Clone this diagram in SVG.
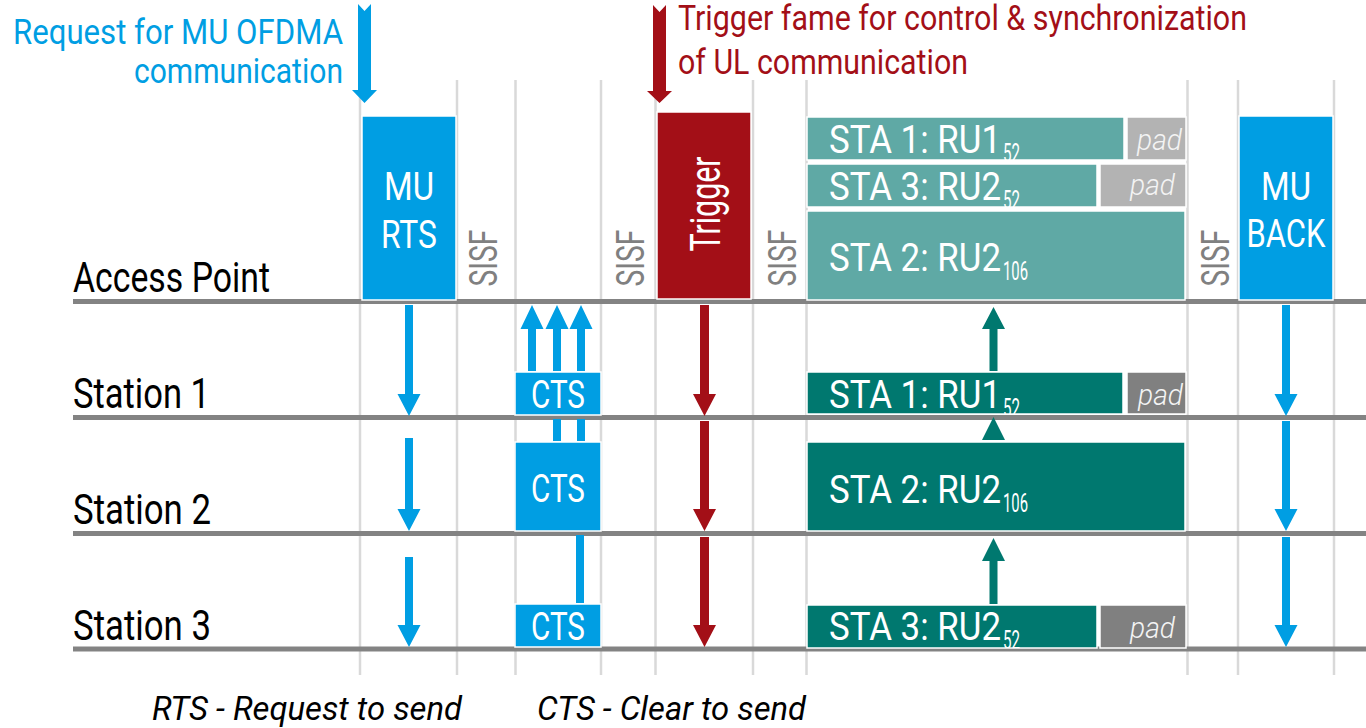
<svg xmlns="http://www.w3.org/2000/svg" width="1366" height="728" viewBox="0 0 1366 728">
  <style>
    text { font-family: Roboto, "Liberation Sans", sans-serif; }
    .grid { stroke: #d9d9d9; stroke-width: 2.5; }
    .lane { stroke: #838383; stroke-width: 5; }
    .blue { fill: #009ee3; }
    .red { fill: #a30f17; }
    .teal1 { fill: #5fa9a5; }
    .teal2 { fill: #00786f; }
    .pad1 { fill: #b3b3b3; }
    .pad2 { fill: #808080; }
    .box { stroke: #ffffff; stroke-width: 1.5; }
    .in { fill: #ffffff; font-size: 39px; }
    .mid { text-anchor: middle; }
    .sub { font-size: 25px; }
    .padt { fill: #f4f4f4; font-size: 30px; font-style: italic; font-weight: 300; text-anchor: end; }
    .lbl { fill: #000000; font-size: 42px; }
    .sisf { fill: #808080; font-size: 39px; text-anchor: middle; }
    .note { fill: #000000; font-size: 33px; font-style: italic; }
  </style>
  <defs>
    <clipPath id="c-ap1"><rect x="807" y="117" width="317" height="43"/></clipPath>
    <clipPath id="c-ap2"><rect x="807" y="164" width="290" height="43"/></clipPath>
    <clipPath id="c-s1"><rect x="807" y="372" width="316" height="42"/></clipPath>
    <clipPath id="c-s3"><rect x="807" y="605" width="290" height="43"/></clipPath>
  </defs>

  <rect width="1366" height="728" fill="#ffffff"/>

  <!-- time grid -->
  <g id="grid">
    <line class="grid" x1="360" y1="80" x2="360" y2="675"/>
    <line class="grid" x1="457" y1="80" x2="457" y2="675"/>
    <line class="grid" x1="515.5" y1="80" x2="515.5" y2="675"/>
    <line class="grid" x1="601" y1="80" x2="601" y2="675"/>
    <line class="grid" x1="655.5" y1="80" x2="655.5" y2="675"/>
    <line class="grid" x1="753" y1="80" x2="753" y2="675"/>
    <line class="grid" x1="806.5" y1="80" x2="806.5" y2="675"/>
    <line class="grid" x1="1187.5" y1="80" x2="1187.5" y2="675"/>
    <line class="grid" x1="1238" y1="80" x2="1238" y2="675"/>
    <line class="grid" x1="1334" y1="80" x2="1334" y2="675"/>
  </g>

  <!-- lanes -->
  <g id="lanes">
    <line class="lane" x1="73" y1="301.5" x2="1366" y2="301.5"/>
    <line class="lane" x1="73" y1="417.5" x2="1366" y2="417.5"/>
    <line class="lane" x1="73" y1="533.5" x2="1366" y2="533.5"/>
    <line class="lane" x1="73" y1="649" x2="1366" y2="649"/>
    <text class="lbl" x="73" y="292" textLength="197" lengthAdjust="spacingAndGlyphs">Access Point</text>
    <text class="lbl" x="73" y="408" textLength="137" lengthAdjust="spacingAndGlyphs">Station 1</text>
    <text class="lbl" x="73" y="524" textLength="138" lengthAdjust="spacingAndGlyphs">Station 2</text>
    <text class="lbl" x="73" y="640" textLength="138" lengthAdjust="spacingAndGlyphs">Station 3</text>
  </g>

  <!-- interframe spaces -->
  <g id="sisf">
    <text class="sisf" transform="translate(497,258) rotate(-90)" textLength="57" lengthAdjust="spacingAndGlyphs">SISF</text>
    <text class="sisf" transform="translate(644,258) rotate(-90)" textLength="57" lengthAdjust="spacingAndGlyphs">SISF</text>
    <text class="sisf" transform="translate(796,258) rotate(-90)" textLength="57" lengthAdjust="spacingAndGlyphs">SISF</text>
    <text class="sisf" transform="translate(1229,258) rotate(-90)" textLength="57" lengthAdjust="spacingAndGlyphs">SISF</text>
  </g>

  <!-- access point frames -->
  <g id="mu-rts">
    <rect class="blue box" x="362" y="116" width="94" height="184"/>
    <text class="in mid" x="409" y="200" textLength="50" lengthAdjust="spacingAndGlyphs">MU</text>
    <text class="in mid" x="409" y="248" textLength="56" lengthAdjust="spacingAndGlyphs">RTS</text>
  </g>
  <g id="trigger">
    <rect class="red box" x="657" y="112" width="94" height="187"/>
    <text class="in mid" style="font-size:42px" transform="translate(720,204) rotate(-90)" textLength="95" lengthAdjust="spacingAndGlyphs">Trigger</text>
  </g>
  <g id="ap-ru1-52">
    <rect class="teal1 box" x="807" y="117" width="317" height="43"/>
    <rect class="pad1 box" x="1127" y="117" width="59" height="43"/>
    <text class="in" x="829" y="153" clip-path="url(#c-ap1)"><tspan textLength="172" lengthAdjust="spacingAndGlyphs">STA 1: RU1</tspan><tspan class="sub" dx="2" dy="9" textLength="17" lengthAdjust="spacingAndGlyphs">52</tspan></text>
    <text class="padt" x="1182" y="150" textLength="45" lengthAdjust="spacingAndGlyphs">pad</text>
  </g>
  <g id="ap-ru2-52">
    <rect class="teal1 box" x="807" y="164" width="290" height="43"/>
    <rect class="pad1 box" x="1100" y="164" width="86" height="43"/>
    <text class="in" x="829" y="200" clip-path="url(#c-ap2)"><tspan textLength="172" lengthAdjust="spacingAndGlyphs">STA 3: RU2</tspan><tspan class="sub" dx="2" dy="9" textLength="17" lengthAdjust="spacingAndGlyphs">52</tspan></text>
    <text class="padt" x="1175" y="195" textLength="45" lengthAdjust="spacingAndGlyphs">pad</text>
  </g>
  <g id="ap-ru2-106">
    <rect class="teal1 box" x="807" y="211" width="378" height="89"/>
    <text class="in" x="829" y="271"><tspan textLength="172" lengthAdjust="spacingAndGlyphs">STA 2: RU2</tspan><tspan class="sub" dx="2" dy="9" textLength="25" lengthAdjust="spacingAndGlyphs">106</tspan></text>
  </g>
  <g id="mu-back">
    <rect class="blue box" x="1239" y="116" width="94" height="184"/>
    <text class="in mid" x="1286" y="200" textLength="50" lengthAdjust="spacingAndGlyphs">MU</text>
    <text class="in mid" x="1286" y="247" textLength="79" lengthAdjust="spacingAndGlyphs">BACK</text>
  </g>

  <!-- station frames -->
  <g id="cts-1">
    <rect class="blue box" x="515" y="372" width="86" height="43"/>
    <text class="in mid" x="558" y="408" textLength="54" lengthAdjust="spacingAndGlyphs">CTS</text>
  </g>
  <g id="cts-2">
    <rect class="blue box" x="515" y="442" width="86" height="89"/>
    <text class="in mid" x="558" y="502" textLength="54" lengthAdjust="spacingAndGlyphs">CTS</text>
  </g>
  <g id="cts-3">
    <rect class="blue box" x="515" y="604" width="86" height="43"/>
    <text class="in mid" x="558" y="640" textLength="54" lengthAdjust="spacingAndGlyphs">CTS</text>
  </g>
  <g id="sta1-ul">
    <rect class="teal2 box" x="807" y="372" width="316" height="42"/>
    <rect class="pad2 box" x="1127" y="372" width="59" height="42"/>
    <text class="in" x="829" y="408" clip-path="url(#c-s1)"><tspan textLength="172" lengthAdjust="spacingAndGlyphs">STA 1: RU1</tspan><tspan class="sub" dx="2" dy="9" textLength="17" lengthAdjust="spacingAndGlyphs">52</tspan></text>
    <text class="padt" x="1183" y="405" textLength="45" lengthAdjust="spacingAndGlyphs">pad</text>
  </g>
  <g id="sta2-ul">
    <rect class="teal2 box" x="807" y="442" width="378" height="89"/>
    <text class="in" x="829" y="503"><tspan textLength="172" lengthAdjust="spacingAndGlyphs">STA 2: RU2</tspan><tspan class="sub" dx="2" dy="9" textLength="25" lengthAdjust="spacingAndGlyphs">106</tspan></text>
  </g>
  <g id="sta3-ul">
    <rect class="teal2 box" x="807" y="605" width="290" height="43"/>
    <rect class="pad2 box" x="1100" y="605" width="86" height="43"/>
    <text class="in" x="829" y="640" clip-path="url(#c-s3)"><tspan textLength="172" lengthAdjust="spacingAndGlyphs">STA 3: RU2</tspan><tspan class="sub" dx="2" dy="9" textLength="17" lengthAdjust="spacingAndGlyphs">52</tspan></text>
    <text class="padt" x="1175" y="638" textLength="45" lengthAdjust="spacingAndGlyphs">pad</text>
  </g>

  <!-- connectors -->
  <g id="connectors">
    <!-- request / trigger callouts -->
    <polygon class="blue" points="358,4 364.5,11 371,4 371,90 377,90 364.5,103 352,90 358,90"/>
    <polygon class="red" points="653,5 659.5,12 666,5 666,91 672,91 659.5,103 647,91 653,91"/>

    <!-- MU-RTS to stations -->
    <polygon class="blue" points="405,305 413,305 413,394 420.5,394 409,416 397.5,394 405,394"/>
    <polygon class="blue" points="405,438 413,438 413,509 420.5,509 409,531 397.5,509 405,509"/>
    <polygon class="blue" points="405,557 413,557 413,625 420.5,625 409,647 397.5,625 405,625"/>

    <!-- CTS responses -->
    <polygon class="blue" points="528,371 536,371 536,329 543.5,329 532,305 520.5,329 528,329"/>
    <polygon class="blue" points="553,371 561,371 561,329 568.5,329 557,305 545.5,329 553,329"/>
    <polygon class="blue" points="577,371 585,371 585,329 592.5,329 581,305 569.5,329 577,329"/>
    <rect class="blue" x="553" y="419" width="8" height="22"/>
    <rect class="blue" x="577" y="419" width="8" height="22"/>
    <rect class="blue" x="576" y="535" width="8" height="68"/>

    <!-- trigger to stations -->
    <polygon class="red" points="700,305 709,305 709,394 716,394 704.5,416 693,394 700,394"/>
    <polygon class="red" points="700,421 709,421 709,509 716,509 704.5,531 693,509 700,509"/>
    <polygon class="red" points="700,537 709,537 709,625 716,625 704.5,647 693,625 700,625"/>

    <!-- UL data to access point -->
    <polygon class="teal2" points="989.5,371 997.5,371 997.5,329 1005,329 993.5,307 982,329 989.5,329"/>
    <polygon class="teal2" points="982,440 1005,440 993.5,417"/>
    <polygon class="teal2" points="989.5,604 997.5,604 997.5,561 1005,561 993.5,538 982,561 989.5,561"/>

    <!-- MU-BACK to stations -->
    <polygon class="blue" points="1282,305 1290,305 1290,394 1297.5,394 1286,416 1274.5,394 1282,394"/>
    <polygon class="blue" points="1282,421 1290,421 1290,509 1297.5,509 1286,531 1274.5,509 1282,509"/>
    <polygon class="blue" points="1282,537 1290,537 1290,625 1297.5,625 1286,647 1274.5,625 1282,625"/>
  </g>

  <!-- captions -->
  <g id="captions">
    <text fill="#009ee3" font-size="35" text-anchor="end" x="343" y="44" textLength="330" lengthAdjust="spacingAndGlyphs">Request for MU OFDMA</text>
    <text fill="#009ee3" font-size="35" text-anchor="end" x="343" y="83" textLength="209" lengthAdjust="spacingAndGlyphs">communication</text>
    <text fill="#a30f17" font-size="35" x="678" y="30" textLength="569" lengthAdjust="spacingAndGlyphs">Trigger fame for control &amp; synchronization</text>
    <text fill="#a30f17" font-size="35" x="678" y="74" textLength="290" lengthAdjust="spacingAndGlyphs">of UL communication</text>
    <text class="note" x="152" y="720" textLength="310" lengthAdjust="spacingAndGlyphs">RTS - Request to send</text>
    <text class="note" x="537" y="720" textLength="269" lengthAdjust="spacingAndGlyphs">CTS - Clear to send</text>
  </g>
</svg>
